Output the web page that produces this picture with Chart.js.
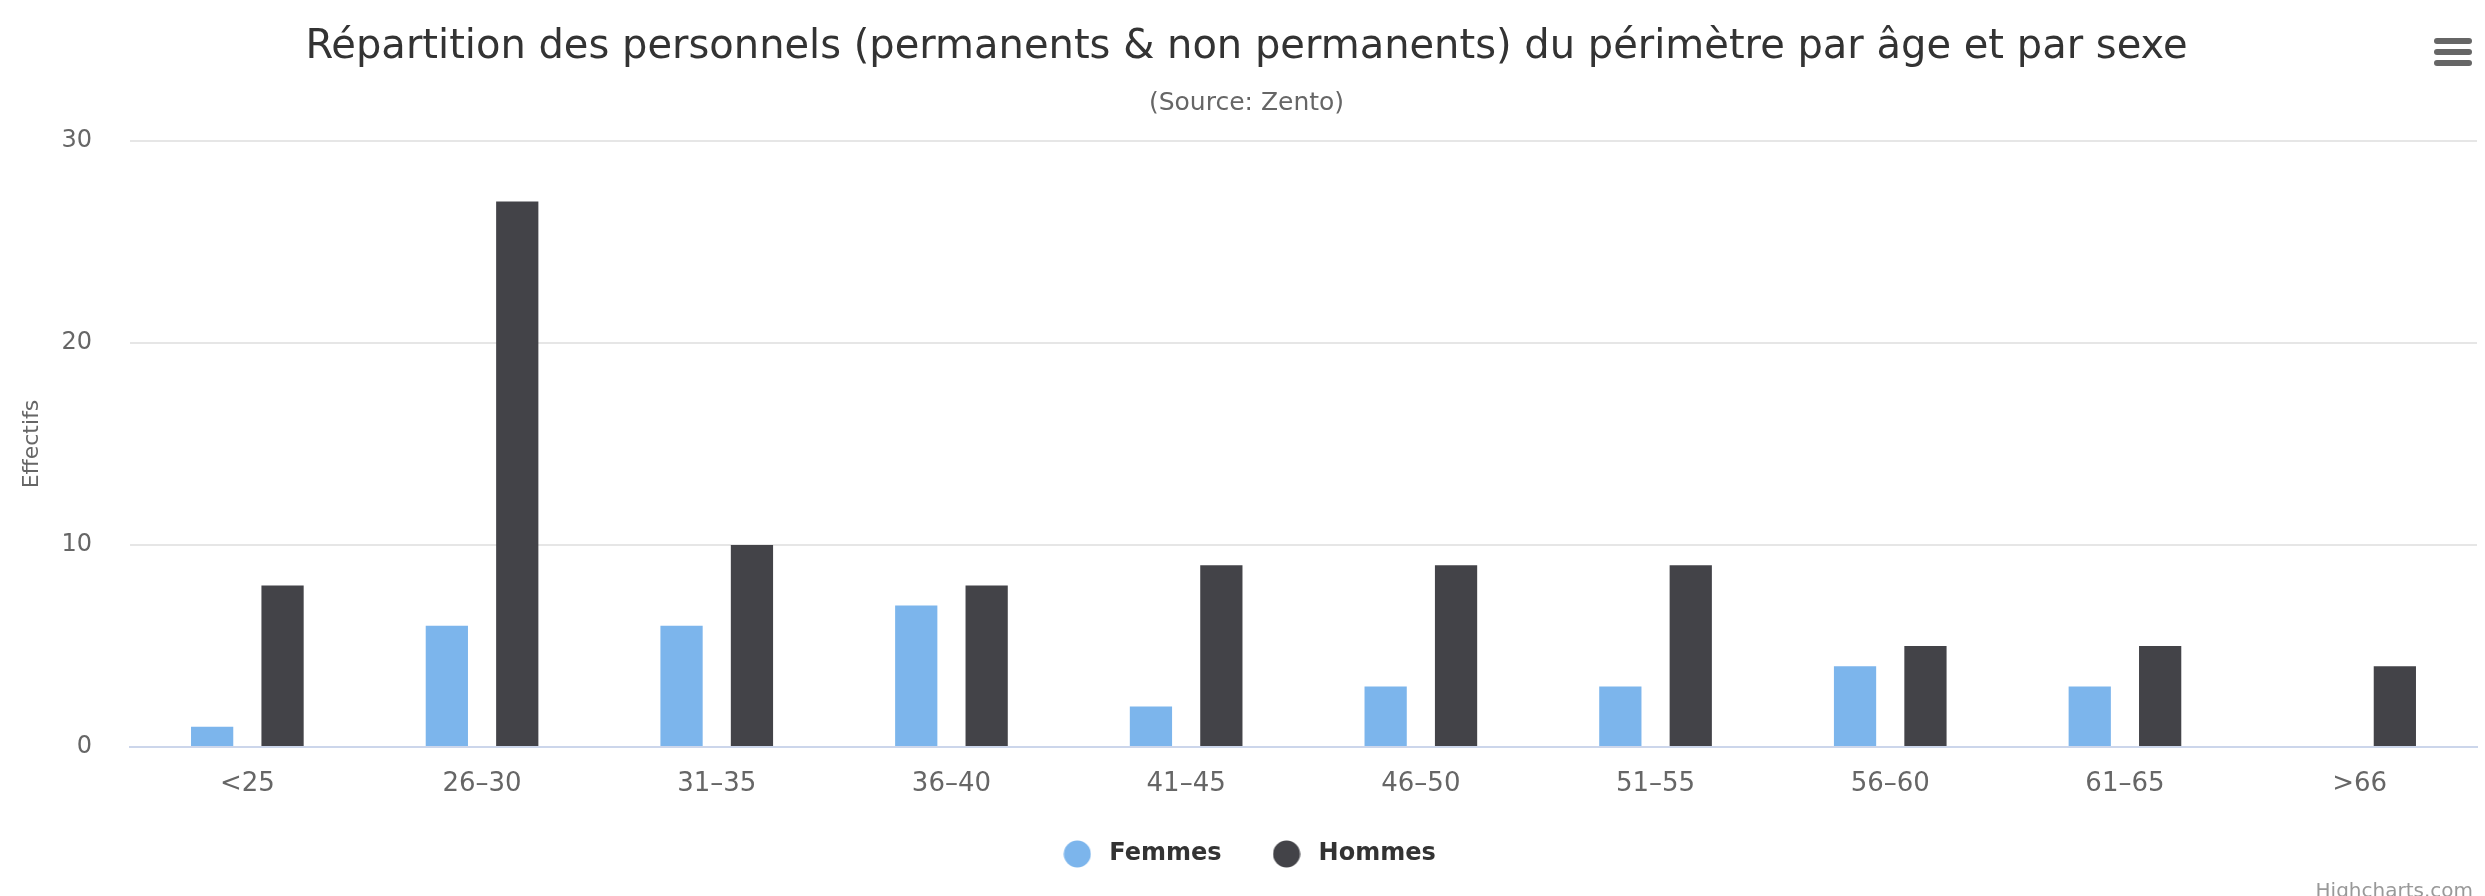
<!DOCTYPE html>
<html>
<head>
<meta charset="utf-8">
<script src="https://cdn.jsdelivr.net/npm/chart.js@4.4.1/dist/chart.umd.min.js"></script>
<style>
    html, body { margin: 0; padding: 0; background: #ffffff; }
    #wrap { width: 2485px; height: 896px; }
</style>
</head>
<body>
<div id="wrap"><canvas id="ageChart" width="2485" height="896"></canvas></div>
<script>
// Data
const ageGroups = ['<25', '26–30', '31–35', '36–40', '41–45', '46–50', '51–55', '56–60', '61–65', '>66'];
const femmes = [1, 6, 6, 7, 2, 3, 3, 4, 3, 0];
const hommes = [8, 27, 10, 8, 9, 9, 9, 5, 5, 4];
const yTicks = [0, 10, 20, 30];
const seriesColors = ['#7cb5ec', '#434348'];

const FONT = "'DejaVu Sans', 'Lucida Grande', sans-serif";

// Round legend markers drawn on small canvases so the text gap can be widened
function makeMarker(color) {
    const c = document.createElement('canvas');
    c.width = 28;
    c.height = 28;
    const g = c.getContext('2d');
    g.fillStyle = color;
    g.beginPath();
    g.arc(14, 14, 13.5, 0, Math.PI * 2);
    g.fill();
    return c;
}
const markers = seriesColors.map(makeMarker);

// Highcharts-like extras: export menu icon and credits text
const extrasPlugin = {
    id: 'extras',
    afterDraw(chart) {
        const ctx = chart.ctx;
        ctx.save();
        ctx.strokeStyle = '#666666';
        ctx.lineWidth = 6;
        ctx.lineCap = 'round';
        [41, 52, 63].forEach(y => {
            ctx.beginPath();
            ctx.moveTo(2437, y);
            ctx.lineTo(2469, y);
            ctx.stroke();
        });
        ctx.fillStyle = '#999999';
        ctx.font = '20px ' + FONT;
        ctx.textAlign = 'right';
        ctx.textBaseline = 'top';
        ctx.fillText('Highcharts.com', 2473, 882);
        ctx.restore();
    }
};

const ctx = document.getElementById('ageChart').getContext('2d');
const ageChart = new Chart(ctx, {
    type: 'bar',
    data: {
        labels: ageGroups,
        datasets: [
            {
                label: 'Femmes',
                data: femmes,
                backgroundColor: seriesColors[0],
                borderWidth: 0,
                categoryPercentage: 0.6,
                barPercentage: 0.6
            },
            {
                label: 'Hommes',
                data: hommes,
                backgroundColor: seriesColors[1],
                borderWidth: 0,
                categoryPercentage: 0.6,
                barPercentage: 0.6
            }
        ]
    },
    options: {
        responsive: false,
        animation: false,
        devicePixelRatio: 1,
        layout: {
            padding: { left: 16, right: 8, top: 0, bottom: 20 }
        },
        plugins: {
            title: {
                display: true,
                text: 'Répartition des personnels (permanents & non permanents) du périmètre par âge et par sexe',
                color: '#333333',
                font: { family: FONT, size: 40, weight: 'normal', lineHeight: 1.2 },
                padding: { top: 24, bottom: 16 }
            },
            subtitle: {
                display: true,
                text: '(Source: Zento)',
                color: '#666666',
                font: { family: FONT, size: 25, weight: 'normal', lineHeight: 1.2 },
                padding: { top: 0, bottom: 23 }
            },
            legend: {
                position: 'bottom',
                labels: {
                    usePointStyle: true,
                    pointStyleWidth: 40,
                    boxHeight: 24,
                    padding: 45,
                    color: '#333333',
                    font: { family: FONT, size: 24, weight: 'bold' },
                    generateLabels(chart) {
                        const items = Chart.defaults.plugins.legend.labels.generateLabels(chart);
                        items.forEach((item, i) => { item.pointStyle = markers[i]; });
                        return items;
                    }
                }
            },
            tooltip: { enabled: false }
        },
        scales: {
            x: {
                grid: { display: false },
                border: { display: true, color: '#ccd6eb', width: 2 },
                ticks: {
                    color: '#666666',
                    padding: 14,
                    maxRotation: 0,
                    font: { family: FONT, size: 26 }
                },
                afterFit(scale) { scale.height = 50; }
            },
            y: {
                min: 0,
                max: 30,
                afterBuildTicks(scale) {
                    scale.ticks = yTicks.map(v => ({ value: v }));
                },
                grid: { color: '#e6e6e6', lineWidth: 2, drawTicks: false },
                border: { display: false },
                ticks: {
                    color: '#666666',
                    padding: 38,
                    font: { family: FONT, size: 24 }
                },
                title: {
                    display: true,
                    text: 'Effectifs',
                    color: '#666666',
                    font: { family: FONT, size: 22 },
                    padding: { top: 3, bottom: 0 }
                },
                afterFit(scale) { scale.width = 114; }
            }
        }
    },
    plugins: [extrasPlugin]
});
</script>
</body>
</html>
